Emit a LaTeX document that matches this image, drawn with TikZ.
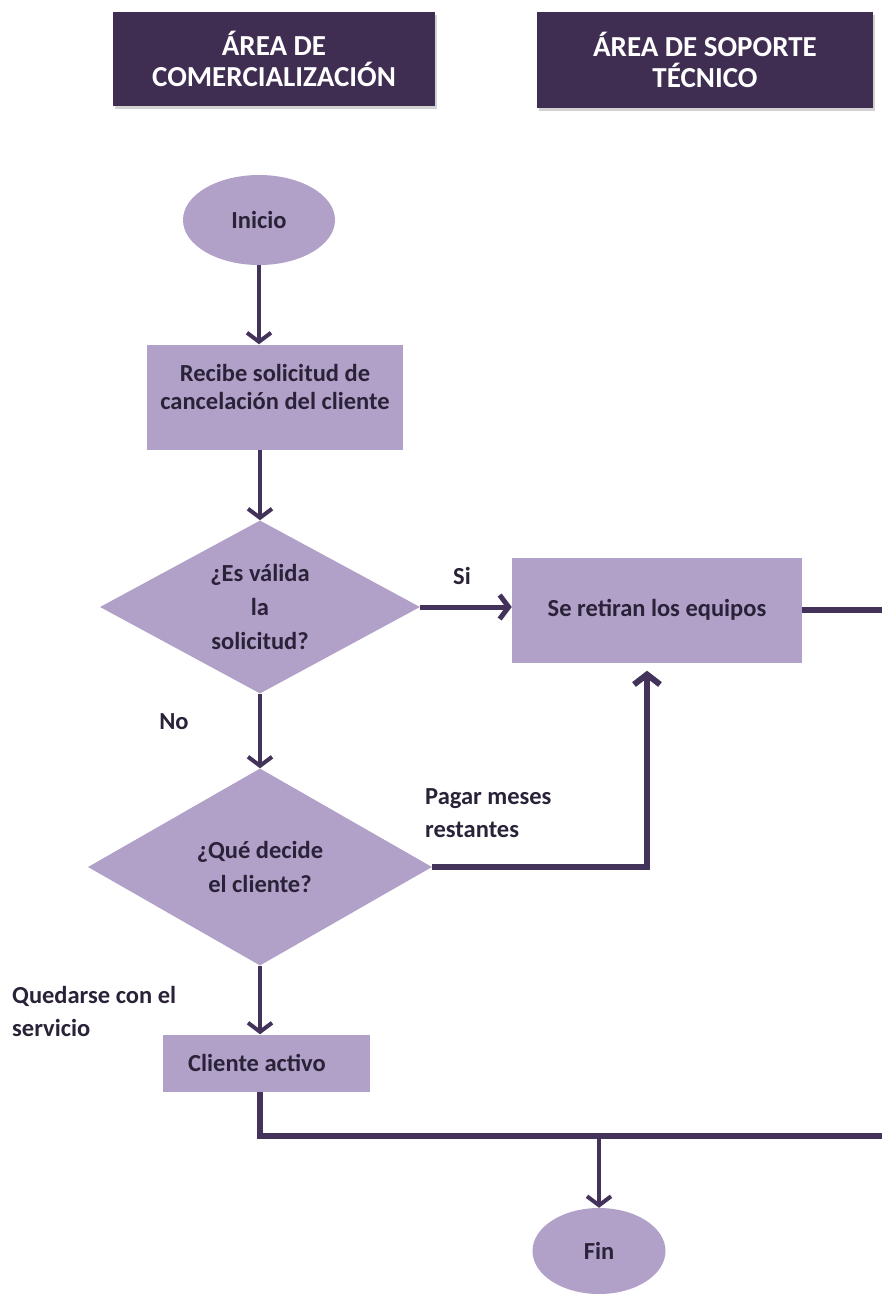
\documentclass[tikz,border=0pt]{standalone}
\usepackage{fontspec}
\setmainfont{Carlito}
\usetikzlibrary{shapes.geometric,arrows.meta,shadows}
\definecolor{hdr}{HTML}{3F2D52}
\definecolor{fillp}{HTML}{B1A0C7}
\definecolor{linec}{HTML}{43335A}
\definecolor{txt}{HTML}{2A2238}
\begin{document}
\begin{tikzpicture}[x=1pt,y=-1pt,
  header/.style={rectangle, fill=hdr, text=white, inner sep=0pt, align=center,
    font=\fontsize{29}{31}\selectfont\bfseries,
    drop shadow={shadow xshift=2pt, shadow yshift=-3pt, opacity=0.35, fill=gray}},
  proc/.style={rectangle, fill=fillp, inner sep=0pt, align=center, text=txt,
    font=\fontsize{24.5}{28}\selectfont\bfseries},
  term/.style={ellipse, fill=fillp, inner sep=0pt, text=txt,
    font=\fontsize{24.5}{28}\selectfont\bfseries},
  decision/.style={diamond, fill=fillp, inner sep=0pt, align=center, text=txt,
    font=\fontsize{24.5}{34}\selectfont\bfseries},
  lab/.style={inner sep=0pt, align=left, text=txt,
    font=\fontsize{24.5}{33}\selectfont\bfseries},
  flow/.style={draw=linec, line width=4pt,
    -{Straight Barb[length=9pt,width=24pt]}},
  elbow/.style={draw=linec, line width=6pt, line join=miter},
]
\useasboundingbox (0,0) rectangle (882,1294);
\fill[white] (0,0) rectangle (882,1294);

% lane headers
\node[header, minimum width=322pt, minimum height=94pt] (h1) at (274,59)
  {ÁREA DE\\COMERCIALIZACIÓN};
\node[header, minimum width=336pt, minimum height=96pt] (h2) at (705,60)
  {ÁREA DE SOPORTE\\TÉCNICO};

% flow nodes
\node[term, minimum width=152pt, minimum height=90pt] (ini) at (259,220) {Inicio};
\node[proc, minimum width=256pt, minimum height=105pt, text depth=21pt] (rec) at (275,397)
  {Recibe solicitud de\\cancelación del cliente};
\node[decision, aspect=1.85, minimum width=320pt, minimum height=173pt] (d1) at (260,607)
  {¿Es válida\\la\\solicitud?};
\node[proc, minimum width=290pt, minimum height=105pt] (ret) at (657,610)
  {Se retiran los equipos};
\node[decision, aspect=1.75, minimum width=344pt, minimum height=197pt] (d2) at (260,867)
  {¿Qué decide\\el cliente?};
\node[proc, minimum width=207pt, minimum height=57pt] (act) at (266,1063)
  {\hspace*{-18pt}Cliente activo};
\node[term, minimum width=133pt, minimum height=86pt] (fin) at (599,1251) {Fin};

% branch labels
\node[lab] (lsi) at (462,576) {Si};
\node[lab] (lno) at (174,722) {No};
\node[lab, anchor=west] (lpay) at (425,813) {Pagar meses\\restantes};
\node[lab, anchor=west] (lstay) at (12,1011) {Quedarse con el\\servicio};

% junction points
\coordinate (edgeA) at (882,610);
\coordinate (pk) at (647,867);
\coordinate (j) at (260,1136);
\coordinate (edgeB) at (882,1136);

% connectors
\draw[flow] (ini.south) -- (ini.south |- rec.north);
\draw[flow] (d1.north |- rec.south) -- (d1.north);
\draw[flow, line width=5pt] (d1.east) -- (d1.east -| ret.west);
\draw[elbow] (ret.east) -- (edgeA);
\draw[flow] (d1.south) -- (d2.north);
\draw[elbow, -{Straight Barb[length=10pt,width=26pt]}, shorten >=8pt]
  (d2.east) -- (pk) -- (ret.south -| pk);
\draw[flow] (d2.south) -- (d2.south |- act.north);
\draw[elbow] (act.south -| j) -- (j) -- (edgeB);
\draw[flow] (fin.north |- j) -- (fin.north);
\end{tikzpicture}
\end{document}
